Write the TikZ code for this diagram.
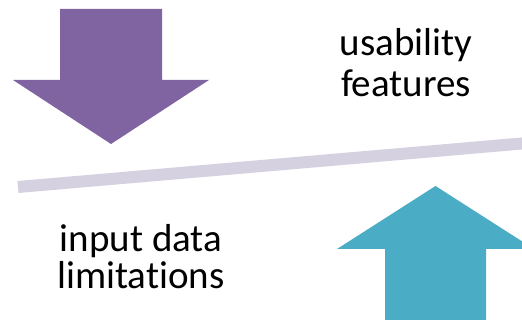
\documentclass[tikz,border=0pt]{standalone}
\usepackage{fontspec}
\setmainfont{Carlito}[Ligatures=NoCommon]
\definecolor{arrowpurple}{HTML}{8064A2}
\definecolor{arrowteal}{HTML}{4BACC6}
\definecolor{beamgray}{HTML}{D5D1E1}
\begin{document}
\begin{tikzpicture}[x=1pt,y=-1pt,
  label text/.style={align=center, inner sep=0pt, anchor=base},
  beam/.style={line width=12pt, draw=beamgray, line cap=butt}]
\useasboundingbox[fill=white] (0,0) rectangle (522,320);
\clip (0,0) rectangle (522,320);
% purple arrow pointing down
\fill[arrowpurple] (60,9) -- (162,9) -- (162,80) -- (209,80) -- (111,144) -- (13,80) -- (60,80) -- cycle;
% teal arrow pointing up
\fill[arrowteal] (385,330) -- (486,330) -- (486,249) -- (534,249) -- (435.5,186) -- (337,249) -- (385,249) -- cycle;
% balance beam
\coordinate (beamL) at (18,187);
\coordinate (beamR) at (530,142.8);
\draw[beam] (beamL) -- (beamR);
% labels (base anchor = baseline of last line)
\node[label text, font=\fontsize{39}{41}\selectfont] (usab) at (406,96.5) {usability\\features};
\node[label text, font=\fontsize{39}{36.7}\selectfont] (input) at (141,288.3) {input data\\limitations};
\end{tikzpicture}
\end{document}
